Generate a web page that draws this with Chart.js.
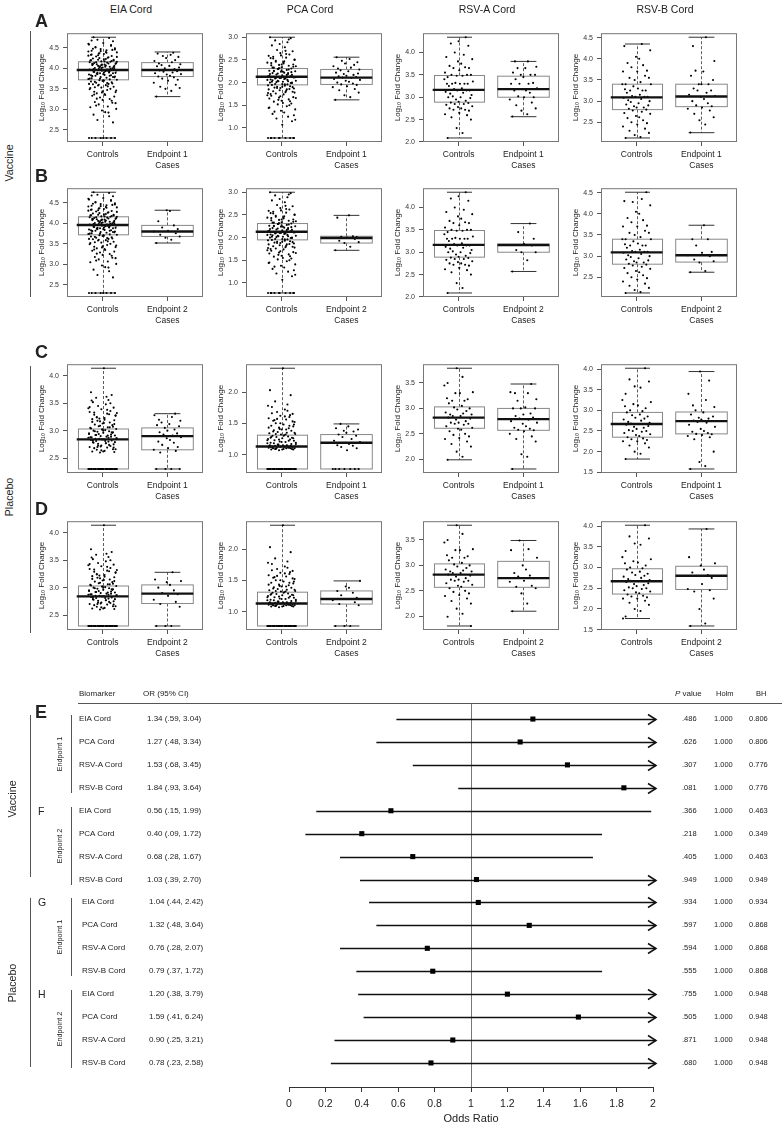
<!DOCTYPE html>
<html>
<head>
<meta charset="utf-8">
<script src="https://cdn.jsdelivr.net/npm/chart.js@4.4.0/dist/chart.umd.min.js"></script>
<style>
  html, body { margin: 0; padding: 0; background: #fff; }
  #page { position: relative; width: 784px; height: 1126px; overflow: hidden;
          font-family: 'Liberation Sans', Arial, sans-serif; color: #222; }
  #page canvas { position: absolute; }
  .t { position: absolute; white-space: nowrap; line-height: 1; }
  .rule { position: absolute; background: #555; }
</style>
</head>
<body>
<div id="page"></div>
<script>
// ---------------------------------------------------------------
// Box plot data (log10 fold change)
// box stats are [lower whisker, Q1, median, Q3, upper whisker]
// ---------------------------------------------------------------
const vacEiaCtrl = [2.30, 2.30, 2.30, 2.30, 2.30, 2.30, 2.30, 2.30, 2.68, 2.74, 2.83, 2.87, 2.93, 2.97, 3.01, 3.05, 3.07, 3.12, 3.16, 3.18, 3.23, 3.25, 3.29,
  3.31, 3.33, 3.37, 3.39, 3.42, 3.43, 3.47, 3.49, 3.50, 3.53, 3.55, 3.58, 3.59, 3.61, 3.62, 3.65, 3.66, 3.68, 3.70, 3.71,
  3.72, 3.74, 3.76, 3.77, 3.79, 3.80, 3.82, 3.83, 3.85, 3.86, 3.88, 3.89, 3.90, 3.92, 3.93, 3.94, 3.95, 3.96,
  3.97, 3.98, 4.00, 4.01, 4.02, 4.04, 4.05, 4.06, 4.08, 4.09, 4.10, 4.11, 4.13, 4.14, 4.15, 4.16,
  4.17, 4.19, 4.21, 4.23, 4.24, 4.27, 4.29, 4.30, 4.33, 4.35, 4.37, 4.39, 4.41, 4.43, 4.44, 4.47, 4.49, 4.52, 4.55, 4.58, 4.62, 4.66, 4.70, 4.74, 4.76,
  3.35, 3.41, 3.46, 3.52, 3.56, 3.60, 3.63, 3.67, 3.69, 3.73, 3.75, 3.78, 3.81, 3.84, 3.87, 3.89, 3.91, 3.94, 3.97, 3.99, 4.01, 4.03, 4.06, 4.07,
  4.10, 4.12, 4.15, 4.18, 4.20, 4.22, 4.25, 4.28, 4.31, 4.34, 4.38, 4.42, 4.46, 4.51, 4.57, 3.62, 3.71, 3.79, 3.86, 3.92, 3.98, 4.04, 4.09, 4.13,
  4.19, 4.26, 4.36, 4.45, 3.54, 3.44, 3.82, 3.88, 4.00, 4.11, 4.17, 3.26, 3.15, 3.36, 3.64, 3.75, 3.95, 4.08, 4.21, 4.32, 4.40, 4.48, 2.92, 3.09,
  3.21, 3.83, 3.90, 4.02, 4.16, 4.60, 4.68, 3.97];
const vacEiaCtrlBox = [2.30, 3.72, 3.96, 4.16, 4.76];

const vacPcaCtrl = [0.78, 0.78, 0.78, 0.78, 0.78, 0.78, 0.78, 1.07, 1.15, 1.21, 1.25, 1.31, 1.34, 1.38, 1.41, 1.45, 1.48, 1.52, 1.54, 1.58, 1.60, 1.63, 1.67, 1.68,
  1.71, 1.74, 1.76, 1.78, 1.81, 1.82, 1.85, 1.86, 1.88, 1.90, 1.91, 1.93, 1.95, 1.96, 1.97, 1.99, 2.00, 2.02, 2.03, 2.04, 2.06, 2.07, 2.09, 2.10,
  2.11, 2.12, 2.13, 2.14, 2.16, 2.17, 2.18, 2.19, 2.21, 2.22, 2.24, 2.25, 2.26, 2.28, 2.30, 2.31, 2.33, 2.34, 2.37, 2.39, 2.40, 2.43, 2.45, 2.48,
  2.50, 2.53, 2.55, 2.59, 2.62, 2.65, 2.69, 2.72, 2.78, 2.82, 2.89, 2.93, 2.98, 3.00,
  1.55, 1.62, 1.66, 1.72, 1.75, 1.79, 1.83, 1.87, 1.89, 1.92, 1.94, 1.97, 1.99, 2.01, 2.03, 2.05, 2.08, 2.10, 2.12, 2.15, 2.17, 2.20, 2.23, 2.25,
  2.27, 2.29, 2.32, 2.35, 2.38, 2.42, 2.46, 2.51, 2.57, 2.63, 1.44, 1.50, 1.70, 1.80, 1.88, 1.96, 2.02, 2.06, 2.09, 2.14, 2.19, 2.24, 2.30, 2.36,
  2.44, 2.54, 2.70, 2.85, 1.28, 1.36, 1.59, 1.77, 1.91, 2.00, 2.11, 2.21, 2.33, 2.47, 2.60, 1.18, 1.65, 1.85, 2.04, 2.13, 2.26, 2.40, 2.95, 0.78,
  0.78, 0.78];
const vacPcaCtrlBox = [0.78, 1.95, 2.13, 2.31, 3.00];

const vacRsvaCtrl = [2.09, 2.20, 2.31, 2.50, 2.55, 2.60, 2.62, 2.65, 2.70, 2.72, 2.72, 2.75, 2.75, 2.78, 2.80, 2.83, 2.85, 2.85, 2.87, 2.88, 2.90, 2.92,
  2.95, 2.98, 3.00, 3.00, 3.02, 3.05, 3.08, 3.10, 3.12, 3.15, 3.15, 3.15, 3.18, 3.20, 3.25, 3.30, 3.30, 3.30, 3.30, 3.30, 3.32, 3.35, 3.40,
  3.45, 3.48, 3.48, 3.50, 3.50, 3.50, 3.55, 3.60, 3.65, 3.65, 3.67, 3.70, 3.75, 3.80, 3.85, 3.90, 3.95, 4.00, 4.15, 4.20, 4.25, 4.34];
const vacRsvaCtrlBox = [2.09, 2.89, 3.165, 3.485, 4.34];

const vacRsvbCtrl = [2.13, 2.15, 2.20, 2.25, 2.30, 2.35, 2.40, 2.45, 2.48, 2.50, 2.55, 2.60, 2.62, 2.65, 2.70, 2.72, 2.75, 2.78, 2.80, 2.82, 2.85, 2.85,
  2.88, 2.90, 2.92, 2.95, 2.98, 3.00, 3.02, 3.05, 3.08, 3.10, 3.10, 3.10, 3.12, 3.15, 3.20, 3.25, 3.25, 3.25, 3.28, 3.30, 3.35, 3.40, 3.40,
  3.40, 3.45, 3.50, 3.55, 3.55, 3.60, 3.70, 3.70, 3.72, 3.80, 3.85, 3.90, 4.00, 4.05, 4.20, 4.30, 4.35];
const vacRsvbCtrlBox = [2.13, 2.80, 3.09, 3.40, 4.35];
const vacRsvbCtrl2 = vacRsvbCtrl.concat([4.28, 4.51]);
const vacRsvbCtrl2Box = [2.13, 2.81, 3.09, 3.40, 4.51];

const vacEiaEp1 = [3.31, 3.45, 3.50, 3.52, 3.55, 3.60, 3.65, 3.70, 3.72, 3.75, 3.78, 3.80, 3.82, 3.85, 3.86, 3.88, 3.90, 3.92, 3.93, 3.95, 3.96,
  3.98, 4.00, 4.02, 4.05, 4.06, 4.08, 4.10, 4.12, 4.15, 4.18, 4.20, 4.25, 4.28, 4.30, 4.33, 4.36, 4.38];
const vacEiaEp1Box = [3.31, 3.80, 3.96, 4.14, 4.40];
const vacPcaEp1 = [1.62, 1.68, 1.72, 1.78, 1.83, 1.86, 1.90, 1.92, 1.95, 1.96, 1.98, 2.00, 2.02, 2.04, 2.06, 2.08, 2.10, 2.11, 2.12, 2.14, 2.15,
  2.17, 2.19, 2.20, 2.22, 2.25, 2.27, 2.29, 2.31, 2.33, 2.36, 2.39, 2.42, 2.45, 2.48, 2.52, 2.56];
const vacPcaEp1Box = [1.62, 1.96, 2.11, 2.29, 2.56];
const vacRsvaEp1 = [2.57, 2.62, 2.70, 2.75, 2.82, 2.88, 2.95, 3.00, 3.00, 3.02, 3.10, 3.15, 3.15, 3.18, 3.20, 3.30, 3.30, 3.30, 3.32, 3.40,
  3.45, 3.50, 3.50, 3.50, 3.55, 3.65, 3.65, 3.68, 3.80, 3.80];
const vacRsvaEp1Box = [2.565, 3.00, 3.18, 3.47, 3.80];
const vacRsvbEp1 = [2.26, 2.45, 2.55, 2.62, 2.70, 2.78, 2.82, 2.85, 2.88, 2.90, 2.95, 3.00, 3.05, 3.10, 3.12, 3.15, 3.20, 3.25, 3.25, 3.30,
  3.40, 3.40, 3.40, 3.50, 3.60, 3.70, 3.72, 3.95, 4.30, 4.51];
const vacRsvbEp1Box = [2.255, 2.87, 3.11, 3.40, 4.51];

const vacEiaEp2 = [3.52, 3.60, 3.65, 3.68, 3.72, 3.76, 3.80, 3.82, 3.86, 3.90, 3.95, 4.05, 4.30, 4.32];
const vacEiaEp2Box = [3.52, 3.68, 3.80, 3.95, 4.32];
const vacPcaEp2 = [1.72, 1.80, 1.88, 1.90, 1.93, 1.97, 1.99, 2.00, 2.01, 2.02, 2.03, 2.44, 2.49];
const vacPcaEp2Box = [1.72, 1.88, 1.99, 2.03, 2.49];
const vacRsvaEp2 = [2.57, 2.82, 3.00, 3.00, 3.05, 3.15, 3.16, 3.18, 3.30, 3.45, 3.64];
const vacRsvaEp2Box = [2.57, 3.00, 3.16, 3.18, 3.64];
const vacRsvbEp2 = [2.62, 2.65, 2.85, 2.88, 2.92, 3.00, 3.02, 3.08, 3.10, 3.25, 3.40, 3.40, 3.73];
const vacRsvbEp2Box = [2.62, 2.86, 3.02, 3.40, 3.73];

const plaEiaCtrl = [2.30, 2.30, 2.30, 2.30, 2.30, 2.30, 2.30, 2.30, 2.30, 2.30, 2.30, 2.30, 2.30, 2.30, 2.30, 2.30, 2.30, 2.30, 2.30, 2.30, 2.30, 2.30,
  2.60, 2.61, 2.62, 2.63, 2.65, 2.66, 2.68, 2.69, 2.70, 2.72, 2.73, 2.75, 2.76, 2.77, 2.79, 2.80, 2.81, 2.82, 2.83, 2.84, 2.85, 2.86, 2.87,
  2.88, 2.89, 2.90, 2.91, 2.92, 2.93, 2.94, 2.96, 2.97, 2.98, 2.99, 3.00, 3.01, 3.02, 3.03, 3.05, 3.06, 3.08, 3.10, 3.11, 3.13, 3.15, 3.17,
  3.19, 3.21, 3.23, 3.25, 3.27, 3.29, 3.31, 3.34, 3.36, 3.39, 3.42, 3.45, 3.48, 3.52, 3.56, 3.60, 3.65, 3.70, 4.14,
  2.30, 2.30, 2.30, 2.30, 2.30, 2.30, 2.30, 2.30, 2.30, 2.30, 2.62, 2.66, 2.70, 2.74, 2.78, 2.81, 2.84, 2.86, 2.88, 2.91, 2.94, 2.96, 2.99,
  3.02, 3.06, 3.09, 3.12, 3.16, 3.20, 3.24, 3.28, 3.33, 3.38, 3.43, 3.50, 2.64, 2.69, 2.73, 2.77, 2.82, 2.87, 2.92, 2.97, 3.04, 3.14, 3.22,
  3.32, 3.41, 3.55, 3.62, 2.71, 2.79, 2.85, 2.89, 2.95, 3.00, 3.07, 3.18, 3.30];
const plaEiaCtrlBox = [2.30, 2.30, 2.84, 3.03, 4.14];

const plaPcaCtrl = [0.77, 0.77, 0.77, 0.77, 0.77, 0.77, 0.77, 0.77, 0.77, 0.77, 0.77, 0.77, 0.77, 0.77, 0.77, 0.77, 0.77, 0.77, 0.77, 0.77, 0.77, 0.77,
  1.07, 1.08, 1.08, 1.09, 1.09, 1.10, 1.10, 1.10, 1.11, 1.11, 1.12, 1.12, 1.12, 1.13, 1.13, 1.14, 1.14, 1.14, 1.15, 1.15, 1.16, 1.17,
  1.18, 1.19, 1.20, 1.21, 1.22, 1.23, 1.24, 1.25, 1.26, 1.27, 1.28, 1.29, 1.30, 1.31, 1.32, 1.33, 1.34, 1.35, 1.36, 1.38, 1.39, 1.40,
  1.42, 1.43, 1.45, 1.46, 1.48, 1.50, 1.52, 1.54, 1.56, 1.58, 1.60, 1.62, 1.65, 1.68, 1.72, 1.76, 1.80, 1.85, 1.95, 2.03, 2.38,
  0.77, 0.77, 0.77, 0.77, 0.77, 0.77, 0.77, 0.77, 0.77, 0.77, 1.08, 1.09, 1.10, 1.11, 1.11, 1.12, 1.13, 1.13, 1.14, 1.15, 1.16, 1.17, 1.18,
  1.20, 1.22, 1.24, 1.26, 1.28, 1.30, 1.33, 1.35, 1.37, 1.40, 1.43, 1.46, 1.50, 1.53, 1.57, 1.61, 1.66, 1.70, 1.09, 1.10, 1.12, 1.14, 1.15,
  1.19, 1.23, 1.27, 1.32, 1.41, 1.48, 1.55, 1.63, 1.78];
const plaPcaCtrlBox = [0.77, 0.77, 1.13, 1.31, 2.38];

const plaRsvaCtrl = [1.99, 2.05, 2.15, 2.25, 2.30, 2.35, 2.40, 2.42, 2.45, 2.48, 2.50, 2.55, 2.58, 2.60, 2.62, 2.65, 2.68, 2.70, 2.70, 2.72,
  2.72, 2.75, 2.78, 2.80, 2.82, 2.85, 2.85, 2.88, 2.88, 2.90, 2.92, 2.95, 2.98, 3.00, 3.02, 3.05, 3.10, 3.15, 3.15, 3.18, 3.20, 3.30,
  3.30, 3.32, 3.45, 3.50, 3.62, 3.79];
const plaRsvaCtrlBox = [1.99, 2.61, 2.82, 3.03, 3.79];
const plaRsvaCtrl2 = plaRsvaCtrl.concat([1.81]);
const plaRsvaCtrl2Box = [1.81, 2.57, 2.82, 3.03, 3.79];

const plaRsvbCtrl = [1.82, 1.95, 2.00, 2.10, 2.15, 2.20, 2.25, 2.25, 2.28, 2.30, 2.32, 2.35, 2.38, 2.40, 2.42, 2.45, 2.48, 2.50, 2.50, 2.52,
  2.55, 2.58, 2.60, 2.62, 2.65, 2.67, 2.68, 2.70, 2.72, 2.75, 2.78, 2.80, 2.82, 2.85, 2.88, 2.90, 2.95, 2.98, 3.00, 3.05, 3.10, 3.12,
  3.15, 3.20, 3.25, 3.40, 3.55, 3.58, 3.70, 3.75, 4.02];
const plaRsvbCtrlBox = [1.82, 2.35, 2.67, 2.95, 4.02];
const plaRsvbCtrl2 = plaRsvbCtrl.concat([1.77]);
const plaRsvbCtrl2Box = [1.77, 2.36, 2.67, 2.97, 4.02];

const plaEiaEp1 = [2.30, 2.30, 2.30, 2.30, 2.60, 2.63, 2.65, 2.68, 2.70, 2.74, 2.78, 2.80, 2.83, 2.86, 2.88, 2.90, 2.91, 2.93, 2.95, 2.97,
  3.00, 3.02, 3.05, 3.08, 3.10, 3.12, 3.15, 3.18, 3.20, 3.25, 3.28, 3.31];
const plaEiaEp1Box = [2.30, 2.65, 2.90, 3.05, 3.31];
const plaPcaEp1 = [0.77, 0.77, 0.77, 0.77, 0.77, 0.77, 0.77, 1.07, 1.10, 1.12, 1.14, 1.15, 1.17, 1.19, 1.20, 1.22, 1.25, 1.28, 1.30, 1.32,
  1.35, 1.37, 1.38, 1.40, 1.42, 1.45, 1.49];
const plaPcaEp1Box = [0.77, 0.77, 1.19, 1.32, 1.49];
const plaRsvaEp1 = [1.81, 2.05, 2.10, 2.35, 2.40, 2.45, 2.50, 2.55, 2.57, 2.58, 2.60, 2.62, 2.65, 2.70, 2.72, 2.75, 2.78, 2.80, 2.82, 2.85,
  2.88, 2.90, 3.00, 3.00, 3.00, 3.02, 3.15, 3.18, 3.30, 3.30, 3.32, 3.48];
const plaRsvaEp1Box = [1.81, 2.57, 2.79, 3.00, 3.48];
const plaRsvbEp1 = [1.58, 1.65, 1.75, 2.00, 2.30, 2.35, 2.38, 2.40, 2.42, 2.43, 2.45, 2.48, 2.50, 2.55, 2.60, 2.65, 2.70, 2.72, 2.74, 2.75,
  2.78, 2.80, 2.82, 2.85, 2.90, 2.95, 3.00, 3.08, 3.12, 3.25, 3.40, 3.72, 3.94];
const plaRsvbEp1Box = [1.58, 2.43, 2.74, 2.96, 3.94];

const plaEiaEp2 = [2.30, 2.30, 2.30, 2.65, 2.70, 2.74, 2.78, 2.85, 2.88, 2.90, 2.95, 3.00, 3.05, 3.10, 3.12, 3.15, 3.28];
const plaEiaEp2Box = [2.30, 2.71, 2.89, 3.05, 3.28];
const plaPcaEp2 = [0.77, 0.77, 0.77, 1.10, 1.12, 1.15, 1.18, 1.20, 1.22, 1.26, 1.30, 1.33, 1.38, 1.40, 1.49];
const plaPcaEp2Box = [0.77, 1.12, 1.20, 1.33, 1.49];
const plaRsvaEp2 = [2.10, 2.25, 2.45, 2.55, 2.58, 2.60, 2.68, 2.70, 2.75, 2.78, 2.80, 2.85, 2.92, 3.00, 3.15, 3.30, 3.32, 3.49];
const plaRsvaEp2Box = [2.10, 2.57, 2.75, 3.08, 3.49];
const plaRsvbEp2 = [1.59, 1.65, 2.00, 2.25, 2.42, 2.45, 2.48, 2.60, 2.75, 2.80, 2.82, 2.88, 2.95, 3.05, 3.10, 3.25, 3.93];
const plaRsvbEp2Box = [1.59, 2.47, 2.80, 3.03, 3.93];

// horizontal spread of the dots around each group centre
const jitter = [-0.17, 0.06, -0.03, 0.19, -0.11, 0.13, -0.21, 0.01, 0.16, -0.08, 0.10, -0.14, 0.04, -0.01, 0.21, -0.19, 0.08, -0.06, 0.15,
  -0.12, 0.00, 0.11, -0.04, 0.18, -0.16, 0.03, -0.09, 0.20, -0.13, 0.07, -0.20, 0.12, -0.02, 0.17, -0.07, 0.05, -0.15, 0.09, -0.10, 0.14,
  -0.18, 0.02, -0.05, 0.22, -0.22];

const columnTitles = ['EIA Cord', 'PCA Cord', 'RSV-A Cord', 'RSV-B Cord'];
const groupLabels = ['Controls', ['Endpoint 1', 'Cases'], ['Endpoint 2', 'Cases']];

// ---------------------------------------------------------------
// Forest plot data
// ---------------------------------------------------------------
const biomarkers = ['EIA Cord', 'PCA Cord', 'RSV-A Cord', 'RSV-B Cord',
                    'EIA Cord', 'PCA Cord', 'RSV-A Cord', 'RSV-B Cord',
                    'EIA Cord', 'PCA Cord', 'RSV-A Cord', 'RSV-B Cord',
                    'EIA Cord', 'PCA Cord', 'RSV-A Cord', 'RSV-B Cord'];
const oddsRatio = [1.34, 1.27, 1.53, 1.84, 0.56, 0.40, 0.68, 1.03, 1.04, 1.32, 0.76, 0.79, 1.20, 1.59, 0.90, 0.78];
const ciLow     = [0.59, 0.48, 0.68, 0.93, 0.15, 0.09, 0.28, 0.39, 0.44, 0.48, 0.28, 0.37, 0.38, 0.41, 0.25, 0.23];
const ciHigh    = [3.04, 3.34, 3.45, 3.64, 1.99, 1.72, 1.67, 2.70, 2.42, 3.64, 2.07, 1.72, 3.79, 6.24, 3.21, 2.58];
const pValue    = [0.486, 0.626, 0.307, 0.081, 0.366, 0.218, 0.405, 0.949, 0.934, 0.597, 0.594, 0.555, 0.755, 0.505, 0.871, 0.680];
const holm      = [1, 1, 1, 1, 1, 1, 1, 1, 1, 1, 1, 1, 1, 1, 1, 1];
const bh        = [0.806, 0.806, 0.776, 0.776, 0.463, 0.349, 0.463, 0.949, 0.934, 0.868, 0.868, 0.868, 0.948, 0.948, 0.948, 0.948];
const orTicks   = [0, 0.2, 0.4, 0.6, 0.8, 1, 1.2, 1.4, 1.6, 1.8, 2];

// ---------------------------------------------------------------
Chart.defaults.font.family = "'Liberation Sans', Arial, sans-serif";
Chart.defaults.color = '#222';
const page = document.getElementById('page');

function addText(str, x, y, opt = {}) {
    const el = document.createElement('div');
    el.className = 't';
    if (opt.html) el.innerHTML = str; else el.textContent = str;
    el.style.left = x + 'px';
    el.style.top = y + 'px';
    el.style.fontSize = (opt.size || 8) + 'px';
    if (opt.bold) el.style.fontWeight = 'bold';
    if (opt.rotate) el.style.transform = 'translate(-50%,-50%) rotate(-90deg)';
    else if (opt.center) el.style.transform = 'translate(-50%,-50%)';
    else el.style.transform = 'translateY(-50%)';
    page.appendChild(el);
}

function addRule(x, y, w, h) {
    const el = document.createElement('div');
    el.className = 'rule';
    el.style.left = x + 'px'; el.style.top = y + 'px';
    el.style.width = w + 'px'; el.style.height = h + 'px';
    page.appendChild(el);
}

// Box, whiskers and frame drawn through the chart's scales
const BOX_W = 0.8;
const boxPlugin = {
    id: 'boxes',
    beforeDatasetsDraw(chart, args, opts) {
        const { ctx, scales: { x, y } } = chart;
        ctx.save();
        opts.stats.forEach((b, k) => {
            const cx = Math.round(x.getPixelForValue(k + 1)) + 0.5;
            const half = x.getPixelForValue(k + 1 + BOX_W / 2) - cx;
            const [lo, q1, , q3, hi] = b.map(v => y.getPixelForValue(v));
            ctx.strokeStyle = '#333';
            ctx.lineWidth = 0.8;
            ctx.setLineDash([3, 2]);
            ctx.beginPath();
            ctx.moveTo(cx, q3); ctx.lineTo(cx, hi);
            ctx.moveTo(cx, q1); ctx.lineTo(cx, lo);
            ctx.stroke();
            ctx.setLineDash([]);
            ctx.lineWidth = 1;
            ctx.beginPath();
            ctx.moveTo(cx - half / 2, hi); ctx.lineTo(cx + half / 2, hi);
            ctx.moveTo(cx - half / 2, lo); ctx.lineTo(cx + half / 2, lo);
            ctx.stroke();
            ctx.strokeStyle = '#888';
            ctx.strokeRect(cx - half, q3, 2 * half, q1 - q3);
        });
        ctx.restore();
    },
    afterDatasetsDraw(chart, args, opts) {
        const { ctx, chartArea, scales: { x, y } } = chart;
        ctx.save();
        ctx.strokeStyle = '#111';
        ctx.lineWidth = 2.4;
        opts.stats.forEach((b, k) => {
            const cx = x.getPixelForValue(k + 1);
            const half = x.getPixelForValue(k + 1 + BOX_W / 2) - cx;
            const m = y.getPixelForValue(b[2]);
            ctx.beginPath(); ctx.moveTo(cx - half, m); ctx.lineTo(cx + half, m); ctx.stroke();
        });
        ctx.strokeStyle = '#777';
        ctx.lineWidth = 1;
        ctx.strokeRect(chartArea.left + 0.5, chartArea.top + 0.5, chartArea.width - 1, chartArea.height - 1);
        ctx.restore();
    }
};

const AX_W = 42, AX_H = 30, PLOT_W = 136, PLOT_H = 112;

function boxPanel(p) {
    const cv = document.createElement('canvas');
    cv.width = AX_W + PLOT_W + 5;
    cv.height = 5 + PLOT_H + AX_H;
    cv.style.left = (p.left - AX_W) + 'px';
    cv.style.top = (p.top - 5) + 'px';
    page.appendChild(cv);

    const ends = p.ctrlBox.concat(p.casesBox);
    const lo = Math.min(...ends), hi = Math.max(...ends), pad = (hi - lo) * 0.04;
    const toPts = (vals, pos) => vals.map((v, i) => ({ x: pos + jitter[i % jitter.length], y: v }));
    const dotStyle = { pointRadius: 1.05, pointBackgroundColor: '#000', pointBorderWidth: 0 };

    new Chart(cv, {
        type: 'scatter',
        data: {
            datasets: [
                Object.assign({ data: toPts(p.ctrl, 1) }, dotStyle),
                Object.assign({ data: toPts(p.cases, 2) }, dotStyle)
            ]
        },
        options: {
            responsive: false,
            animation: false,
            devicePixelRatio: 1,
            layout: { padding: { left: 0, right: 5, top: 5, bottom: 0 } },
            plugins: {
                legend: { display: false },
                tooltip: { enabled: false },
                boxes: { stats: [p.ctrlBox, p.casesBox] }
            },
            scales: {
                x: {
                    type: 'linear',
                    min: 0.45,
                    max: 2.55,
                    afterBuildTicks: s => { s.ticks = [{ value: 1 }, { value: 2 }]; },
                    afterFit: s => { s.height = AX_H; },
                    border: { display: false },
                    grid: { drawOnChartArea: false, drawTicks: true, tickLength: 4, color: '#555' },
                    ticks: {
                        autoSkip: false, maxRotation: 0, padding: 4,
                        font: { size: 8.5 },
                        callback: v => (v === 1 ? groupLabels[0] : p.caseLabel)
                    }
                },
                y: {
                    min: lo - pad,
                    max: hi + pad,
                    afterBuildTicks: s => {
                        s.ticks = s.ticks.filter(t => Math.abs(t.value * 2 - Math.round(t.value * 2)) < 1e-6);
                    },
                    afterFit: s => { s.width = AX_W; },
                    border: { display: false },
                    grid: { drawOnChartArea: false, drawTicks: true, tickLength: 4, color: '#555' },
                    ticks: { stepSize: 0.5, includeBounds: false, padding: 4, font: { size: 7 }, color: '#333', callback: v => v.toFixed(1) },
                    title: { display: true, text: 'Log\u2081\u2080 Fold Change', font: { size: 8 }, padding: { top: 12, bottom: 0 } }
                }
            }
        },
        plugins: [boxPlugin]
    });
}

const colLeft = [67, 246, 423, 601];
const rowTop = [30, 185, 361, 518];

const panelRows = [
    [[vacEiaCtrl, vacEiaCtrlBox, vacEiaEp1, vacEiaEp1Box], [vacPcaCtrl, vacPcaCtrlBox, vacPcaEp1, vacPcaEp1Box],
     [vacRsvaCtrl, vacRsvaCtrlBox, vacRsvaEp1, vacRsvaEp1Box], [vacRsvbCtrl, vacRsvbCtrlBox, vacRsvbEp1, vacRsvbEp1Box]],
    [[vacEiaCtrl, vacEiaCtrlBox, vacEiaEp2, vacEiaEp2Box], [vacPcaCtrl, vacPcaCtrlBox, vacPcaEp2, vacPcaEp2Box],
     [vacRsvaCtrl, vacRsvaCtrlBox, vacRsvaEp2, vacRsvaEp2Box], [vacRsvbCtrl2, vacRsvbCtrl2Box, vacRsvbEp2, vacRsvbEp2Box]],
    [[plaEiaCtrl, plaEiaCtrlBox, plaEiaEp1, plaEiaEp1Box], [plaPcaCtrl, plaPcaCtrlBox, plaPcaEp1, plaPcaEp1Box],
     [plaRsvaCtrl, plaRsvaCtrlBox, plaRsvaEp1, plaRsvaEp1Box], [plaRsvbCtrl, plaRsvbCtrlBox, plaRsvbEp1, plaRsvbEp1Box]],
    [[plaEiaCtrl, plaEiaCtrlBox, plaEiaEp2, plaEiaEp2Box], [plaPcaCtrl, plaPcaCtrlBox, plaPcaEp2, plaPcaEp2Box],
     [plaRsvaCtrl2, plaRsvaCtrl2Box, plaRsvaEp2, plaRsvaEp2Box], [plaRsvbCtrl2, plaRsvbCtrl2Box, plaRsvbEp2, plaRsvbEp2Box]]
];

panelRows.forEach((row, r) => {
    row.forEach((cell, c) => {
        boxPanel({
            left: colLeft[c], top: rowTop[r],
            ctrl: cell[0], ctrlBox: cell[1], cases: cell[2], casesBox: cell[3],
            caseLabel: groupLabels[r % 2 === 0 ? 1 : 2]
        });
    });
});

// Titles, panel letters and arm brackets for the top part
columnTitles.forEach((t, c) => addText(t, colLeft[c] + PLOT_W / 2 - 4, 9, { size: 10.5, center: true }));
['A', 'B', 'C', 'D'].forEach((l, r) => addText(l, 35, rowTop[r] - 9, { size: 18, bold: true }));
addRule(30, 31, 1, 266);
addRule(30, 366, 1, 267);
addText('Vaccine', 9, 163, { size: 10.7, rotate: true });
addText('Placebo', 9, 497, { size: 10.7, rotate: true });

// ---------------------------------------------------------------
// Forest plot
// ---------------------------------------------------------------
const X_MAX = 2;
const forestPlugin = {
    id: 'forest',
    beforeDatasetsDraw(chart) {
        const { ctx, chartArea, scales: { x, y } } = chart;
        ctx.save();
        const x1 = Math.round(x.getPixelForValue(1)) + 0.5;
        ctx.strokeStyle = '#777';
        ctx.lineWidth = 1;
        ctx.beginPath(); ctx.moveTo(x1, chartArea.top); ctx.lineTo(x1, chartArea.bottom); ctx.stroke();

        ctx.strokeStyle = '#111';
        ctx.lineWidth = 1.5;
        ciLow.forEach((lo, i) => {
            const py = Math.round(y.getPixelForValue(i)) + 0.5;
            const xa = x.getPixelForValue(lo);
            const clipped = ciHigh[i] > X_MAX;
            const xb = x.getPixelForValue(Math.min(ciHigh[i], X_MAX)) + (clipped ? 3 : 0);
            ctx.beginPath(); ctx.moveTo(xa, py); ctx.lineTo(xb, py); ctx.stroke();
            if (clipped) {
                ctx.beginPath();
                ctx.moveTo(xb - 8, py - 5); ctx.lineTo(xb, py); ctx.lineTo(xb - 8, py + 5);
                ctx.stroke();
            }
        });
        ctx.restore();
    }
};

const fcv = document.createElement('canvas');
fcv.width = 784; fcv.height = 436;
fcv.style.left = '0px'; fcv.style.top = '690px';
page.appendChild(fcv);

const forest = new Chart(fcv, {
    type: 'scatter',
    data: {
        datasets: [{
            data: oddsRatio.map((v, i) => ({ x: v, y: i })),
            pointStyle: 'rect',
            pointRadius: 3.6,
            pointBackgroundColor: '#000',
            pointBorderColor: '#000',
            pointBorderWidth: 0
        }]
    },
    options: {
        responsive: false,
        animation: false,
        devicePixelRatio: 1,
        layout: { padding: { left: 289, right: 131, top: 13, bottom: 0 } },
        plugins: { legend: { display: false }, tooltip: { enabled: false } },
        scales: {
            x: {
                min: 0, max: X_MAX,
                afterBuildTicks: s => { s.ticks = orTicks.map(v => ({ value: v })); },
                afterFit: s => { s.height = 39; },
                border: { display: true, color: '#333', width: 1 },
                grid: { drawOnChartArea: false, drawTicks: true, tickLength: 5, color: '#333' },
                ticks: { autoSkip: false, maxRotation: 0, padding: 6, font: { size: 10.5 }, callback: v => String(+v.toFixed(1)) },
                title: { display: true, text: 'Odds Ratio', font: { size: 11 }, padding: { top: 0, bottom: 0 } }
            },
            y: { display: false, min: -0.7, max: 16.05, reverse: true }
        }
    },
    plugins: [forestPlugin]
});

const stripZero = s => s.replace(/^0\./, '.');
const rowY = i => 690 + forest.scales.y.getPixelForValue(i);

addText('Biomarker', 79, 694, { size: 8 });
addText('OR (95% CI)', 143, 694, { size: 8 });
addText('<i>P</i> value', 675, 694, { size: 8, html: true });
addText('Holm', 716, 694, { size: 7.5 });
addText('BH', 756, 694, { size: 7.5 });
addRule(78, 703, 704, 1);

biomarkers.forEach((b, i) => {
    const y = rowY(i);
    const lower = i < 8;
    addText(b, lower ? 79 : 82, y, { size: 8 });
    const txt = oddsRatio[i].toFixed(2) + ' (' + stripZero(ciLow[i].toFixed(2)) + ', ' + ciHigh[i].toFixed(2) + ')';
    addText(txt, lower ? 147 : 149, y, { size: 8 });
    addText(stripZero(pValue[i].toFixed(3)), 682, y, { size: 7.5 });
    addText(holm[i].toFixed(3), 714, y, { size: 7.5 });
    addText(bh[i].toFixed(3), 749, y, { size: 7.5 });
});

// Group letters, endpoint and arm brackets of the forest plot
addText('E', 35, rowY(0) - 7, { size: 18, bold: true });
addText('F', 38, rowY(4), { size: 10.5 });
addText('G', 38, rowY(8), { size: 10.5 });
addText('H', 38, rowY(12), { size: 10.5 });
[0, 4, 8, 12].forEach((start, k) => {
    const top = rowY(start) - 4, bottom = rowY(start + 3) + 5;
    addRule(71, top, 1, bottom - top);
    addText(k % 2 === 0 ? 'Endpoint 1' : 'Endpoint 2', 60, (top + bottom) / 2, { size: 7.2, rotate: true });
});
addRule(30, rowY(0) - 4, 1, rowY(7) - rowY(0) + 1);
addRule(30, rowY(8) - 4, 1, rowY(15) - rowY(8) + 8);
addText('Vaccine', 12, (rowY(0) + rowY(7)) / 2, { size: 10.7, rotate: true });
addText('Placebo', 12, (rowY(8) + rowY(15)) / 2, { size: 10.7, rotate: true });
</script>
</body>
</html>
